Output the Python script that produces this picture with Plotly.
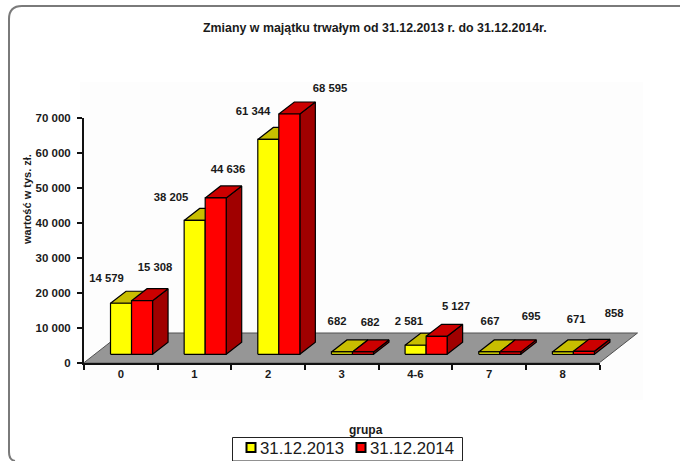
import plotly.graph_objects as go

# ---- data
categories = ["0", "1", "2", "3", "4-6", "7", "8"]
values_2013 = [14579, 38205, 61344, 682, 2581, 667, 671]
values_2014 = [15308, 44636, 68595, 682, 5127, 695, 858]
name_2013 = "31.12.2013"
name_2014 = "31.12.2014"
y_ticks = [0, 10000, 20000, 30000, 40000, 50000, 60000, 70000]
title_text = "Zmiany w majątku trwałym od 31.12.2013 r. do 31.12.2014r."
y_title = "wartość w tys. zł."
x_title = "grupa"

# ---- layout geometry
W, H = 680, 461
AX_L, AX_R = 84, 599.5
AX_T, AX_B = 117.5, 362.7
PX_X = (AX_R - AX_L) / len(categories)      # px per category
PX_Y = (AX_B - AX_T) / 70000                # px per value unit
X2_MAX, Y2_MAX = 7.6, 80000
BAR_OFF, BAR_W = 0.36, 0.2855
BASE = 8.4 / PX_Y
DEPTH_X, DEPTH_Y = 15.5 / PX_X, 12 / PX_Y
FLOOR_X, FLOOR_Y = 38 / PX_X, 29.7 / PX_Y
FONT = "Liberation Sans"
INK = "#1a1a1a"

# label offsets from the front-top centre of each bar, in px
lab_off_2013 = [(-14.5, 24), (-23.6, 22), (-15.3, 27), (-4.9, 30), (-6.6, 23), (0.8, 30), (13.2, 32)]
lab_off_2014 = [(13, 32), (12.4, 28), (40.7, 25), (7.1, 29), (19.4, 29), (20.8, 35), (30.2, 37)]


def fmt(v):
    return f"{v:,}".replace(",", " ")


def polys(values, slot, kind):
    xs, ys = [], []
    for i, v in enumerate(values):
        x0 = i + BAR_OFF + slot * BAR_W
        x1 = x0 + BAR_W
        y0, y1 = BASE, BASE + v
        if kind == "front":
            px = [x0, x1, x1, x0, x0]
            py = [y0, y0, y1, y1, y0]
        elif kind == "top":
            px = [x0, x1, x1 + DEPTH_X, x0 + DEPTH_X, x0]
            py = [y1, y1, y1 + DEPTH_Y, y1 + DEPTH_Y, y1]
        else:
            px = [x1, x1 + DEPTH_X, x1 + DEPTH_X, x1, x1]
            py = [y0, y0 + DEPTH_Y, y1 + DEPTH_Y, y1, y0]
        xs += px + [None]
        ys += py + [None]
    return xs, ys


fig = go.Figure()

# native axes carry a legend-only pair of traces
for name, colour in ((name_2013, "#FFFF00"), (name_2014, "#FF0000")):
    fig.add_trace(go.Scatter(
        x=[None], y=[None], name=name, mode="markers", xaxis="x", yaxis="y",
        marker=dict(symbol="square", size=9, color=colour, line=dict(color="#000", width=2)),
    ))


def poly_trace(xs, ys, fill, line="#000", width=1.2):
    fig.add_trace(go.Scatter(
        x=xs, y=ys, mode="lines", fill="toself", fillcolor=fill,
        line=dict(color=line, width=width), xaxis="x2", yaxis="y2",
        showlegend=False, hoverinfo="skip",
    ))


n = len(categories)
poly_trace([0, n, n + FLOOR_X, FLOOR_X, 0], [0, 0, FLOOR_Y, FLOOR_Y, 0], "#969696", "#505050", 1)

palette = (
    (values_2013, 0, "#FFFF00", "#C8BE00", "#A09800"),
    (values_2014, 1, "#FF0000", "#CC0000", "#A00000"),
)
for vals, slot, front, top, side in palette:
    poly_trace(*polys(vals, slot, "side"), side)
    poly_trace(*polys(vals, slot, "top"), top)
    poly_trace(*polys(vals, slot, "front"), front)

# value labels
for vals, slot, offs in ((values_2013, 0, lab_off_2013), (values_2014, 1, lab_off_2014)):
    fig.add_trace(go.Scatter(
        x=[i + BAR_OFF + (slot + 0.5) * BAR_W + offs[i][0] / PX_X for i in range(n)],
        y=[BASE + v + offs[i][1] / PX_Y for i, v in enumerate(vals)],
        text=[fmt(v) for v in vals], mode="text", textposition="middle center",
        textfont=dict(family=FONT, size=11.3, color=INK, weight="bold"),
        xaxis="x2", yaxis="y2", showlegend=False, hoverinfo="skip",
    ))

# frame with rounded corners
frame = (f"M {W + 5} 6 L 22 6 Q 9 6 9 19 L 9 452 Q 9 460 15 461")
def conv(path):
    out = []
    toks = path.split()
    i = 0
    while i < len(toks):
        if toks[i].isalpha():
            out.append(toks[i])
            i += 1
        else:
            out.append(f"{float(toks[i]) / W:.5f},{1 - float(toks[i + 1]) / H:.5f}")
            i += 2
    return " ".join(out)


fig.update_layout(
    width=W, height=H, autosize=False,
    margin=dict(l=0, r=0, t=0, b=0, autoexpand=False),
    paper_bgcolor="white", plot_bgcolor="rgba(0,0,0,0)",
    font=dict(family=FONT, color=INK),
    showlegend=True,
    legend=dict(
        orientation="h", x=220 / W, y=1 - 430 / H, xanchor="left", yanchor="top",
        borderwidth=0, bgcolor="rgba(0,0,0,0)", entrywidth=65, entrywidthmode="pixels",
        font=dict(family=FONT, size=16.8, color=INK),
    ),
    shapes=[
        dict(type="path", xref="paper", yref="paper", path=conv(frame),
             line=dict(color="#7a7a7a", width=2), layer="below"),
        dict(type="rect", xref="paper", yref="paper", x0=80 / W, x1=643 / W,
             y0=1 - 400 / H, y1=1 - 82 / H, fillcolor="#FDFDFD", line=dict(width=0), layer="below"),
        dict(type="rect", xref="paper", yref="paper", x0=232.5 / W, x1=462.5 / W,
             y0=1 - 461 / H, y1=1 - 437.5 / H, fillcolor="white",
             line=dict(color="#222", width=1), layer="below"),
    ],
    xaxis=dict(
        domain=[AX_L / W, AX_R / W], range=[0, n], anchor="y", fixedrange=True,
        showgrid=False, zeroline=False, showline=True, linecolor="#111", linewidth=2,
        tickmode="array", tickvals=[i + 0.5 for i in range(n)], ticktext=categories,
        ticks="", ticklabelstandoff=0,
        tickfont=dict(family=FONT, size=11.3, color=INK, weight="bold"),
        minor=dict(tickmode="array", tickvals=list(range(n + 1)), ticks="outside",
                   ticklen=5, tickwidth=1.5, tickcolor="#111", showgrid=False),
    ),
    yaxis=dict(
        domain=[1 - AX_B / H, 1 - AX_T / H], range=[0, 70000], anchor="x", fixedrange=True,
        showgrid=False, zeroline=False, showline=True, linecolor="#111", linewidth=2,
        tickmode="array", tickvals=y_ticks, ticktext=[fmt(v) for v in y_ticks],
        ticks="outside", ticklen=5, tickwidth=1.5, tickcolor="#111", ticklabelstandoff=4,
        tickfont=dict(family=FONT, size=11.5, color=INK, weight="bold"),
    ),
    xaxis2=dict(
        domain=[AX_L / W, (AX_L + X2_MAX * PX_X) / W], range=[0, X2_MAX], anchor="y2",
        visible=False, fixedrange=True,
    ),
    yaxis2=dict(
        domain=[1 - AX_B / H, 1 - (AX_B - Y2_MAX * PX_Y) / H], range=[0, Y2_MAX], anchor="x2",
        visible=False, fixedrange=True,
    ),
    annotations=[
        dict(text=title_text, xref="paper", yref="paper", x=374.5 / W, y=1 - 28 / H,
             xanchor="center", yanchor="middle",
             showarrow=False, font=dict(family=FONT, size=12.4, color=INK, weight="bold")),
        dict(text=y_title, xref="paper", yref="paper", x=27 / W, y=1 - 200 / H, textangle=-90,
             xanchor="center", yanchor="middle",
             showarrow=False, font=dict(family=FONT, size=11, color=INK, weight="bold")),
        dict(text=x_title, xref="paper", yref="paper", x=366 / W, y=1 - 429.5 / H,
             xanchor="center", yanchor="middle",
             showarrow=False, font=dict(family=FONT, size=12, color=INK, weight="bold")),
    ],
)

fig.write_html(
    "out.html", config=dict(displayModeBar=False),
    post_script=(
        "document.body.style.margin='0';document.body.style.overflow='hidden';"
        "document.querySelectorAll('.legendsymbols').forEach(function(e){"
        "e.setAttribute('transform','translate(11,0)');});"
        "document.querySelectorAll('.legend, .legend *').forEach(function(e){"
        "e.removeAttribute('clip-path');e.style.clipPath='none';});"
    ),
)
